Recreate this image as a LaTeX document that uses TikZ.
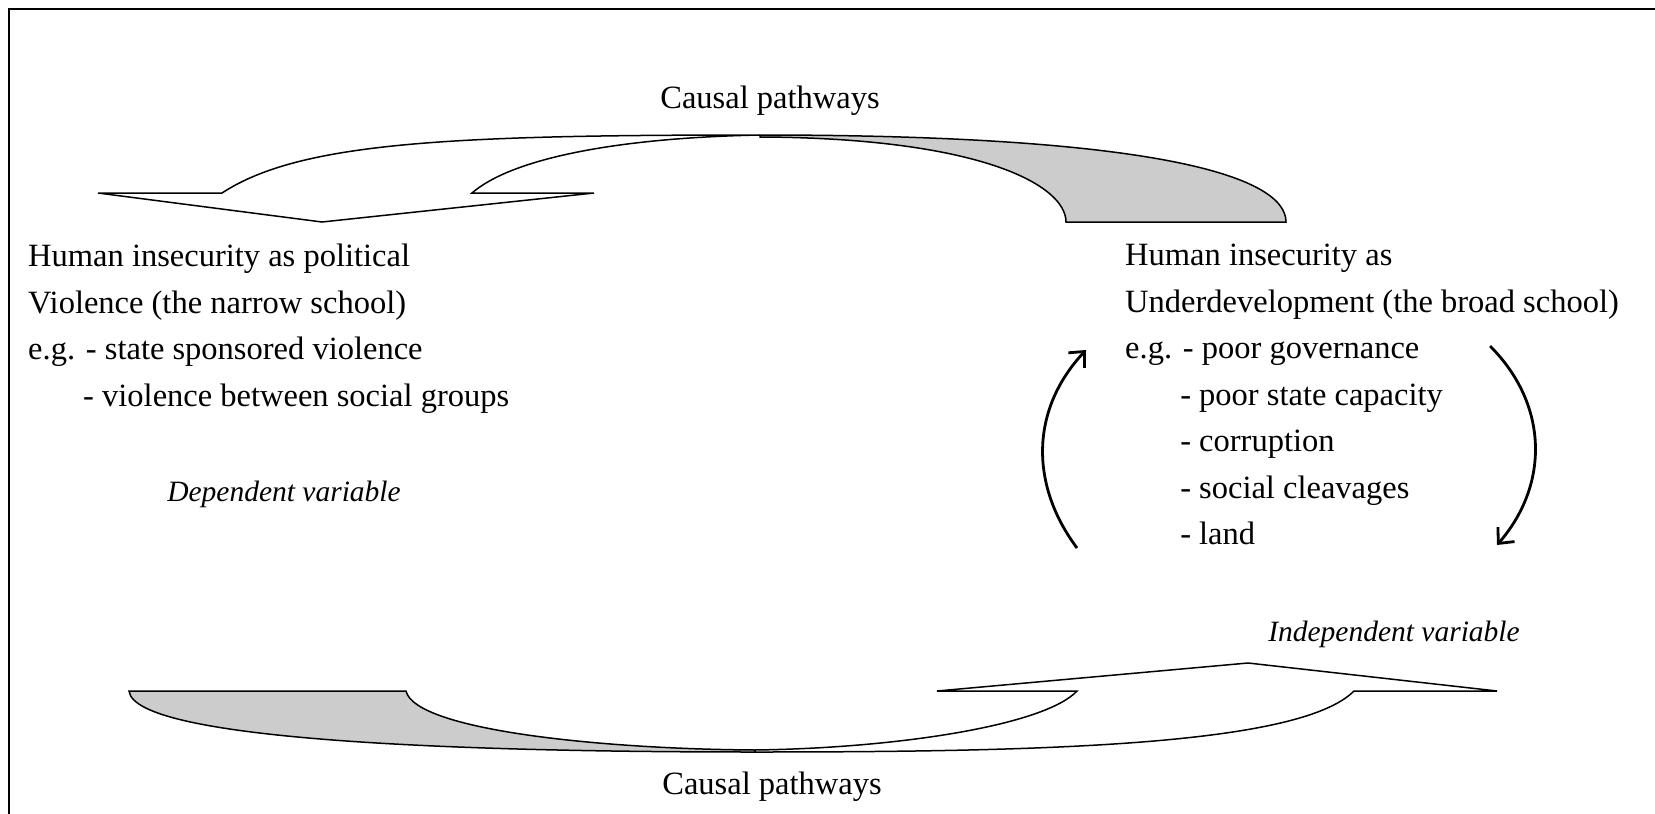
\documentclass[tikz,border=0pt]{standalone}
\usepackage{fontspec}
\setmainfont{Liberation Serif}
\usetikzlibrary{arrows.meta}

\begin{document}
\begin{tikzpicture}[
        x=1pt, y=-1pt,
        every node/.style={inner sep=0pt, font=\fontsize{32.5}{46.5}\selectfont},
        caption/.style={anchor=base},
        varname/.style={anchor=base, font=\fontsize{29.5}{40}\selectfont\itshape},
        block/.style={anchor=north west, align=left},
        band/.style={draw, line width=1.5pt, line join=miter, fill=white},
        shadedband/.style={band, fill=black!20},
        feedback/.style={-{Straight Barb[length=12pt, width=22pt]}, line width=2.8pt}
    ]
    \useasboundingbox (0,0) rectangle (1655,814);

    % frame
    \draw[line width=2pt] (9,814) -- (9,9) -- (1655,9);

    % top causal arrow (points left)
    \draw[shadedband] (760,135) .. controls (1150,135) and (1286,175) .. (1286,222)
        -- (1066,222) .. controls (1066,185) and (980,138) .. (760,137) -- cycle;
    \draw[band] (98,193) -- (222,193) .. controls (300,142) and (450,135) .. (760,135)
        .. controls (610,138) and (510,160) .. (472,193) -- (594,193) -- (322,222) -- cycle;

    % bottom causal arrow (points right)
    \draw[shadedband] (129,691) -- (406,691) .. controls (415,730) and (600,749) .. (755,750)
        -- (755,752) .. controls (480,752) and (135,742) .. (129,691) -- cycle;
    \draw[band] (755,750) .. controls (900,748) and (1045,725) .. (1077,691) -- (937,691)
        -- (1248,663) -- (1497,691) -- (1354,691) .. controls (1300,745) and (1050,752) .. (755,752)
        -- cycle;

    \node[caption] (pathtop) at (770,108) {Causal pathways};
    \node[caption] (pathbottom) at (772,794) {Causal pathways};

    % the two schools
    \node[block] (narrow) at (28,244) {Human insecurity as political\\
        Violence (the narrow school)\\
        e.g. - state sponsored violence\\
        \phantom{e.g.\ }- violence between social groups};
    \node[varname] (dependent) at (284,501) {Dependent variable};

    \node[block] (broad) at (1125,244) {Human insecurity as\\
        Underdevelopment (the broad school)\\
        e.g. - poor governance\\
        \phantom{e.g.\ }- poor state capacity\\
        \phantom{e.g.\ }- corruption\\
        \phantom{e.g.\ }- social cleavages\\
        \phantom{e.g.\ }- land};
    \node[varname] (independent) at (1394,641) {Independent variable};

    % feedback loop
    \coordinate (upstart) at (1077,548);
    \coordinate (upend) at (1086,350);
    \coordinate (downstart) at (1490,346);
    \coordinate (downend) at (1497,545);
    \draw[feedback] (upstart) .. controls (1030,485) and (1030,410) .. (upend);
    \draw[feedback] (downstart) .. controls (1549,405) and (1549,485) .. (downend);
\end{tikzpicture}
\end{document}
